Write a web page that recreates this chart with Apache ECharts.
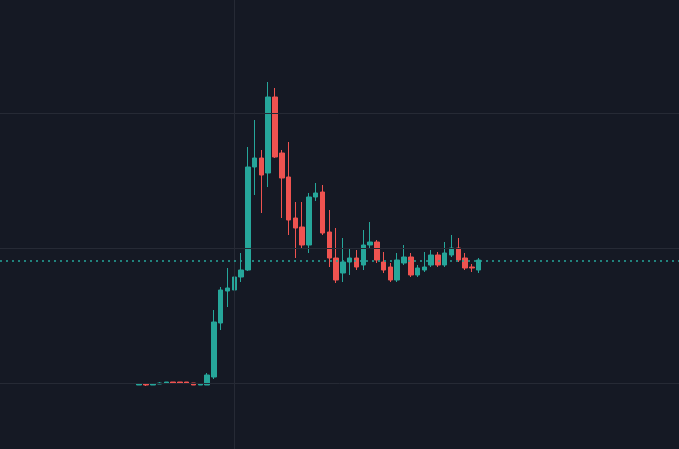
<!DOCTYPE html>
<html><head><meta charset="utf-8">
<script src="https://cdn.jsdelivr.net/npm/echarts@6/dist/echarts.min.js"></script>
<style>html,body{margin:0;background:#151924}#c{width:679px;height:449px}</style>
</head><body><div id="c"></div>
<script>
const totalSlots = 100;
const firstIndex = 20;
// [open, close, low, high]
const ohlc = [
[64,65,64,66],[65,64,63,66],[64,65,64,66],[65,66,65,67],[66,67,66,67],[67,66,66,67],[67,66,66,67],[67,66,66,67],[66,64,64,66],[64,65,64,66],
[64,74,64,76],[72,127,70,139],[126,159,119,162],[158,161,142,181],[159,172,146,179],[172,179,167,196],[179,282,178,302],[282,291,254,329],[291,274,236,299],[276,352,262,367],
[352,292,291,361],[296,271,231,299],[272,229,214,307],[231,221,191,247],[222,204,201,247],[204,252,196,256],[252,256,248,266],[257,216,214,264],[217,191,182,239],[191,169,166,221],
[176,187,167,211],[187,191,174,201],[191,182,179,199],[184,204,179,219],[204,207,201,227],[207,189,186,209],[187,179,176,197],[182,169,167,186],[169,189,167,196],[186,192,184,204],
[192,174,172,196],[174,181,172,184],[179,182,177,197],[184,194,182,199],[194,184,182,197],[184,196,182,207],[194,201,192,214],[201,189,187,211],[191,181,179,196],[182,181,177,185],
[179,189,176,191]
];
const gridLevels = [66, 201, 336];
const lastPrice = 188;
const vLineIndex = 34;

const cats = [], data = [];
for (let i = 0; i < totalSlots; i++) { cats.push(String(i)); data.push('-'); }
ohlc.forEach((d, k) => { data[firstIndex + k] = d; });

const chart = echarts.init(document.getElementById('c'));
chart.setOption({
  backgroundColor: '#151924',
  animation: false,
  grid: {left: 0, right: 0, top: 0, bottom: 0},
  xAxis: {type: 'category', data: cats, show: false, boundaryGap: true},
  yAxis: {type: 'value', min: 0, max: 449, show: false},
  series: [{
    type: 'candlestick',
    data: data,
    barWidth: 5,
    itemStyle: {color: '#26a69a', color0: '#ef5350', borderColor: '#26a69a', borderColor0: '#ef5350', borderWidth: 1},
    markLine: {
      silent: true, symbol: 'none', label: {show: false},
      data: [
        ...gridLevels.map(v => ({yAxis: v, lineStyle: {color: '#262a35', width: 1, type: 'solid'}})),
        {xAxis: String(vLineIndex), lineStyle: {color: '#262a35', width: 1, type: 'solid'}},
        {yAxis: lastPrice, lineStyle: {color: '#26a69a', width: 1.5, type: [2, 4]}}
      ]
    }
  }]
});
</script></body></html>
